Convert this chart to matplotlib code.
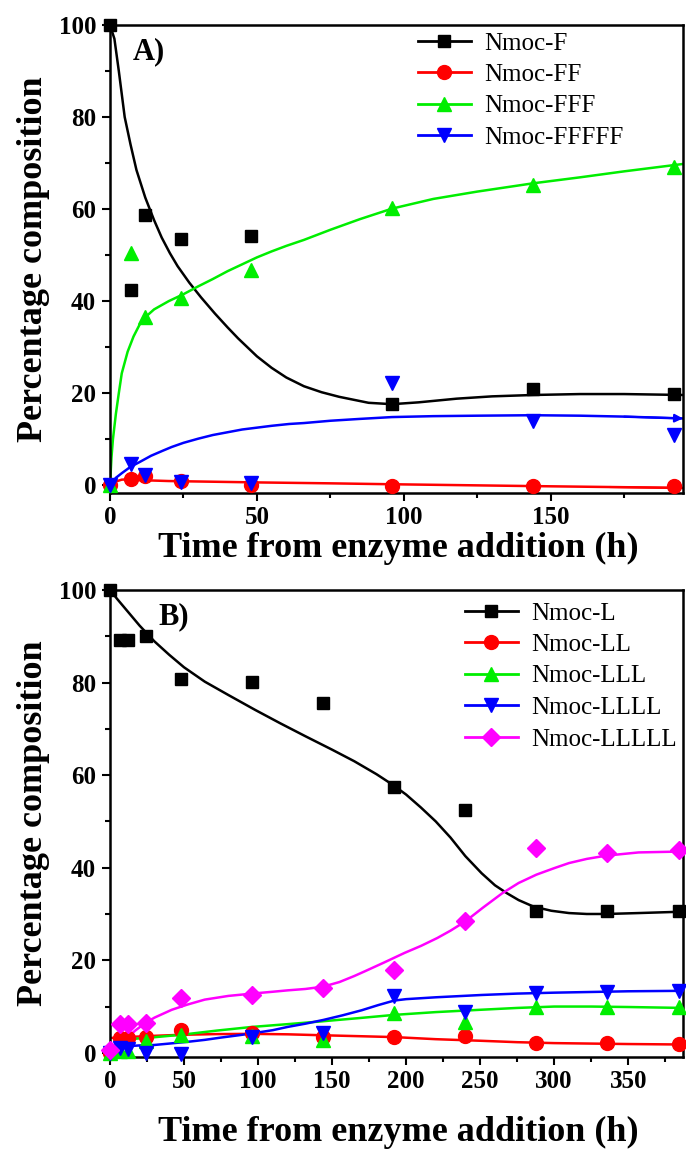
"""
Nmoc peptide composition vs time after enzyme addition
"""
import matplotlib
matplotlib.use("Agg")
import matplotlib.pyplot as plt
from matplotlib.lines import Line2D
from matplotlib.ticker import MultipleLocator

# ---- panel A: measured points ----
t_a = [0, 7, 12, 24, 48, 96, 144, 192]
nmoc_f = [100, 42.4, 58.7, 53.5, 54.1, 17.6, 20.8, 19.8]
nmoc_ff = [0, 1.4, 2.0, 0.9, 0.0, -0.1, -0.1, -0.1]
nmoc_fff = [0, 50.4, 36.6, 40.6, 46.7, 60.2, 65.2, 69.2]
nmoc_fffff = [0, 4.5, 2.2, 0.7, 0.5, 22.1, 14.0, 10.9]

# ---- panel A: fitted curves ----
fit_f_t = [0, 1.5, 3, 5, 7, 9, 12, 15, 17.6, 20.4, 23, 27, 31, 35.7, 40, 43.6, 50, 55, 60, 66,
           72, 78, 88, 96, 105, 118, 130, 144, 160, 175, 195]
fit_f_y = [100, 97, 90, 80, 74, 68.5, 62.5, 57.6, 53.8, 50.4, 47.6, 44, 40.8, 37.3, 34.3, 31.9,
           28.0, 25.5, 23.4, 21.5, 20.2, 19.2, 17.9, 17.6, 18.0, 18.8, 19.3, 19.6, 19.8, 19.8, 19.6]
fit_ff_t = [0, 2, 4, 7, 10, 15, 20, 30, 50, 75, 96, 120, 144, 170, 195]
fit_ff_y = [0, 0.8, 1.2, 1.3, 1.1, 1.0, 0.9, 0.8, 0.6, 0.4, 0.2, 0, -0.2, -0.4, -0.6]
fit_fff_t = [0, 0.5, 1, 2, 3, 4, 6, 8, 10, 12, 15, 20, 25, 30, 35, 40, 45, 50, 55, 60, 66,
             75, 85, 96, 110, 125, 144, 160, 175, 195]
fit_fff_y = [0, 6, 10, 15.5, 20, 24.3, 29, 32.3, 34.8, 36.5, 38.2, 40, 41.5, 43.2, 44.8, 46.5,
             48, 49.5, 50.8, 52, 53.3, 55.5, 57.8, 60.1, 62.2, 63.8, 65.6, 66.9, 68.2, 69.8]
fit_fffff_t = [0, 1, 2, 4, 7, 10, 14, 18, 21, 25, 30, 35, 40, 45, 50, 55, 61, 66, 75, 85, 96,
               110, 125, 144, 160, 175, 195]
fit_fffff_y = [0, 0.8, 1.6, 2.6, 4.0, 5.0, 6.4, 7.5, 8.3, 9.2, 10.1, 10.9, 11.5, 12.1, 12.5,
               12.9, 13.3, 13.5, 14.0, 14.4, 14.8, 15.0, 15.1, 15.2, 15.1, 14.9, 14.5]

# ---- panel B: measured points ----
t_b = [0, 7, 12, 24, 48, 96, 144, 192, 240, 288, 336, 384]
nmoc_l = [100, 89.2, 89.2, 90.0, 80.7, 80.2, 75.5, 57.5, 52.5, 30.6, 30.7, 30.7]
nmoc_ll = [0, 3.2, 3.2, 3.5, 5.0, 4.3, 3.5, 3.5, 3.7, 2.2, 2.1, 1.9]
nmoc_lll = [0, 0.3, 0.5, 2.5, 3.9, 3.7, 2.8, 8.6, 6.6, 10.0, 9.9, 9.9]
nmoc_llll = [0, 1.1, 0.9, 0.0, -0.2, 3.5, 4.3, 12.3, 8.9, 12.9, 13.2, 13.4]
nmoc_lllll = [0.6, 6.3, 6.3, 6.4, 11.8, 12.5, 14.0, 17.9, 28.4, 44.2, 43.1, 43.8]

# ---- panel B: fitted curves ----
fit_l_t = [0, 5, 10, 20, 30, 40, 50, 64, 80, 98, 115, 132, 150, 165, 180, 191, 200, 210, 220,
           230, 240, 251, 260, 268, 276, 286, 298, 310, 322, 335, 357, 387]
fit_l_y = [100, 98, 96.1, 92.3, 88.9, 86, 83.3, 80.2, 77.3, 74.1, 71.2, 68.4, 65.5, 63, 60.2,
           57.9, 55.8, 53, 50, 46.5, 42.5, 38.8, 36.2, 34.5, 33, 31.6, 30.7, 30.2, 30.0, 30.0,
           30.2, 30.5]
fit_ll_t = [0, 24, 48, 72, 96, 120, 143, 168, 192, 220, 251, 275, 300, 325, 350, 387]
fit_ll_y = [3.2, 3.6, 3.9, 4.05, 4.1, 4.0, 3.8, 3.6, 3.4, 2.95, 2.6, 2.3, 2.1, 2.0, 1.9, 1.8]
fit_lll_t = [0, 3, 5, 10, 17, 24, 36, 48, 72, 96, 120, 143, 168, 192, 220, 250, 275, 300, 325,
             350, 387]
fit_lll_y = [0.5, 1.6, 2.2, 2.8, 3.05, 3.2, 3.55, 3.9, 4.8, 5.6, 6.2, 6.8, 7.5, 8.2, 8.8, 9.3,
             9.7, 10.0, 10.0, 9.9, 9.7]
fit_llll_t = [0, 5, 10, 20, 30, 40, 53, 64, 75, 87, 98, 110, 120, 132, 144, 157, 170, 181, 192,
              200, 220, 251, 275, 300, 350, 387]
fit_llll_y = [0, 0.9, 1.4, 1.6, 1.7, 2.0, 2.4, 2.8, 3.3, 3.8, 4.3, 4.9, 5.6, 6.3, 7.1, 8.1, 9.2,
              10.3, 11.3, 11.6, 12.0, 12.5, 12.8, 13.0, 13.3, 13.4]
fit_lllll_t = [0, 5, 10, 17, 23.6, 30, 41.7, 52, 64, 80, 96, 110, 120, 132, 144, 155, 165, 172,
               185, 199, 210, 221, 230, 240, 252, 265, 276, 288, 300, 310, 322, 335, 357, 387]
fit_lllll_y = [0, 1.4, 2.8, 4.8, 6.4, 7.6, 9.3, 10.4, 11.5, 12.3, 12.8, 13.2, 13.5, 13.8, 14.3,
               15.3, 16.6, 17.6, 19.5, 21.6, 23.1, 24.8, 26.4, 28.4, 31.4, 34.5, 36.7, 38.5,
               39.9, 41.0, 41.9, 42.6, 43.3, 43.5]

names_a = ["Nmoc-F", "Nmoc-FF", "Nmoc-FFF", "Nmoc-FFFFF"]
names_b = ["Nmoc-L", "Nmoc-LL", "Nmoc-LLL", "Nmoc-LLLL", "Nmoc-LLLLL"]
colors = ["#000000", "#ff0000", "#00ee00", "#0000ff", "#ff00ff"]
markers = ["s", "o", "^", "v", "D"]
msizes = [9, 10, 10, 10, 9]

W, H = 686, 1151
plt.rcParams["font.family"] = ["Liberation Serif", "DejaVu Serif"]
fig = plt.figure(figsize=(W / 100, H / 100), dpi=100)


def frac(px_left, px_top, px_right, px_bottom):
    return [px_left / W, 1 - px_bottom / H, (px_right - px_left) / W, (px_bottom - px_top) / H]


def style_axes(ax, xmax, ymin, xmajor):
    ax.set_xlim(0, xmax)
    ax.set_ylim(ymin, 100)
    ax.xaxis.set_major_locator(MultipleLocator(xmajor))
    ax.xaxis.set_minor_locator(MultipleLocator(xmajor / 2))
    ax.yaxis.set_major_locator(MultipleLocator(20))
    ax.yaxis.set_minor_locator(MultipleLocator(10))
    ax.tick_params(which="both", direction="out", width=1.5, top=False, right=False)
    ax.tick_params(which="major", length=6, labelsize=18)
    ax.tick_params(axis="x", which="major", pad=3)
    ax.tick_params(axis="y", which="major", pad=4)
    ax.tick_params(which="minor", length=3.5)
    for lab in ax.get_xticklabels() + ax.get_yticklabels():
        lab.set_fontweight("bold")
    for sp in ax.spines.values():
        sp.set_linewidth(1.8)


def draw(ax, t, series, fits, names, legend_xy, arrows=()):
    handles = []
    for i, (ys, (ft, fy), name) in enumerate(zip(series, fits, names)):
        c, m, ms = colors[i], markers[i], msizes[i]
        ax.plot(ft, fy, color=c, lw=1.8, zorder=2)
        if i in arrows:
            # small arrowhead at the right end of the fitted line
            ax.annotate("", xy=(ft[-1], fy[-1]), xytext=(ft[-2], fy[-2]),
                        arrowprops=dict(arrowstyle="-|>", color=c, lw=1.5,
                                        mutation_scale=12, shrinkA=0, shrinkB=0))
        ax.plot(t, ys, ls="none", marker=m, ms=ms, color=c, mec=c, zorder=3, clip_on=False)
        handles.append(Line2D([], [], color=c, lw=2, marker=m, ms=ms, mec=c))
    ax.legend(handles, names, loc="upper left", frameon=False, fontsize=18,
              bbox_to_anchor=(legend_xy[0] / W, 1 - legend_xy[1] / H),
              bbox_transform=fig.transFigure, borderpad=0, borderaxespad=0,
              handlelength=2.1, handletextpad=0.55, labelspacing=0.36)


# panel A
ax1 = fig.add_axes(frac(110, 25, 683, 493))
draw(ax1, t_a, [nmoc_f, nmoc_ff, nmoc_fff, nmoc_fffff],
     [(fit_f_t, fit_f_y), (fit_ff_t, fit_ff_y), (fit_fff_t, fit_fff_y), (fit_fffff_t, fit_fffff_y)],
     names_a, (418, 32), arrows=(1, 3))
style_axes(ax1, 195, -1.7, 50)
ax1.text(0.04, 0.942, "A)", transform=ax1.transAxes, fontsize=22, fontweight="bold", va="center")

# panel B
ax2 = fig.add_axes(frac(110, 590, 683, 1057))
draw(ax2, t_b, [nmoc_l, nmoc_ll, nmoc_lll, nmoc_llll, nmoc_lllll],
     [(fit_l_t, fit_l_y), (fit_ll_t, fit_ll_y), (fit_lll_t, fit_lll_y),
      (fit_llll_t, fit_llll_y), (fit_lllll_t, fit_lllll_y)],
     names_b, (465, 602))
style_axes(ax2, 387, -0.9, 50)
ax2.text(0.084, 0.943, "B)", transform=ax2.transAxes, fontsize=22, fontweight="bold", va="center")

# axis titles
for xl_y, yl_y in [(548, 259), (1132, 823)]:
    fig.text(398 / W, 1 - xl_y / H, "Time from enzyme addition (h)", ha="center", va="center",
             fontsize=26, fontweight="bold")
    fig.text(34 / W, 1 - yl_y / H, "Percentage composition", ha="center", va="center",
             rotation=90, fontsize=26, fontweight="bold")

fig.savefig("out.png", dpi=100)
